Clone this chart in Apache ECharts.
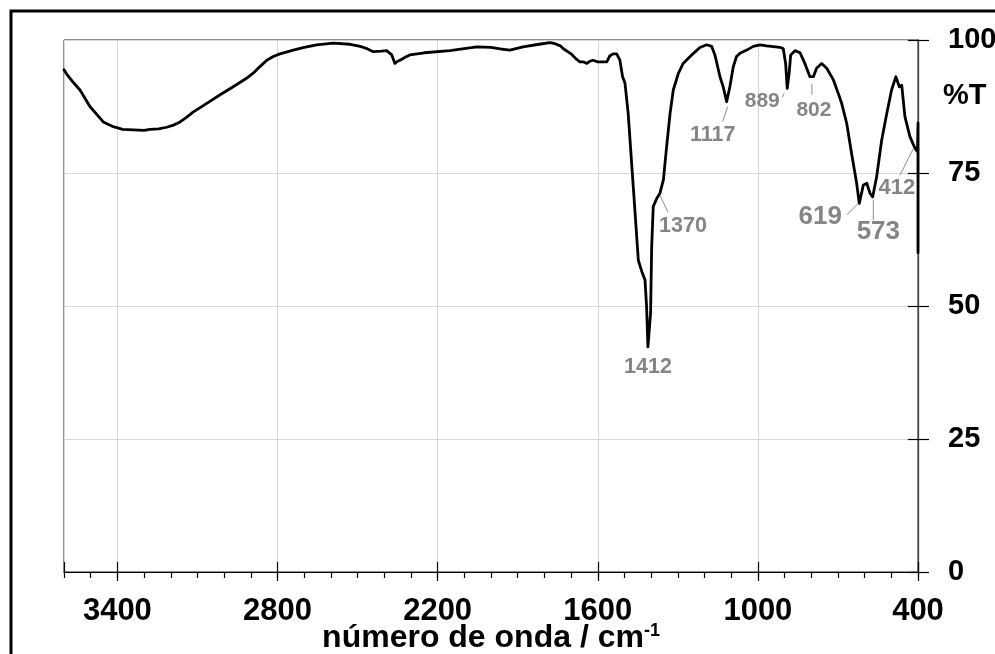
<!DOCTYPE html>
<html>
<head>
<meta charset="utf-8">
<script src="https://cdn.jsdelivr.net/npm/echarts@6/dist/echarts.min.js"></script>
<style>
  html, body { margin: 0; padding: 0; background: #fff; }
  #chart { width: 995px; height: 654px; }
</style>
</head>
<body>
<div id="chart"></div>
<script>
// ---- data ----
const wavenumber = [3600,3590,3570,3540,3503,3453,3415,3380,3340,3300,3278,3245,3215,3190,3165,3140,3115,3065,3015,2966,2916,2890,2866,2840,2816,2791,2741,2700,2653,2591,2528,2490,2466,2441,2410,2391,2372,2360,2350,2341,2320,2304,2250,2154,2100,2053,2000,1960,1929,1880,1820,1779,1760,1753,1740,1730,1700,1680,1667,1655,1641,1630,1618,1600,1580,1566,1555,1543,1529,1517,1507,1498,1486,1473,1460,1448,1435,1423,1417,1412,1402,1398,1392,1379,1367,1354,1342,1329,1317,1298,1280,1248,1217,1192,1173,1161,1142,1130,1117,1105,1092,1080,1067,1042,1017,992,967,917,905,896,890,883,877,861,842,824,805,792,780,761,742,717,699,686,667,649,630,620,605,592,580,570,555,536,517,499,483,470,461,449,430,411,402,400,400];
const transmittance = [94.4,93.6,92.3,90.6,87.5,84.6,83.7,83.2,83.1,83.0,83.2,83.3,83.6,84.0,84.6,85.5,86.5,88.1,89.7,91.2,92.8,93.8,95.0,96.2,96.9,97.4,98.1,98.6,99.1,99.4,99.2,98.8,98.4,97.8,97.9,98.0,97.2,95.6,96.0,96.2,96.8,97.2,97.6,98.0,98.4,98.7,98.6,98.3,98.1,98.7,99.2,99.5,99.3,99.0,98.9,98.4,97.4,96.4,95.9,95.9,95.6,96.0,96.2,95.9,95.9,95.9,97.0,97.4,97.4,96.2,93.1,91.9,86.2,76.8,67.4,58.6,56.5,54.9,49.9,42.3,48.7,61.1,68.7,70.2,71.2,73.7,79.9,86.2,90.6,93.7,95.6,97.2,98.6,99.1,98.8,97.2,93.1,91.2,88.4,91.2,95.0,96.9,97.5,98.1,98.8,99.1,98.9,98.6,98.4,95.6,90.9,93.7,97.2,98.0,97.6,95.6,93.1,93.1,94.7,95.6,94.7,92.5,90.0,88.1,84.3,78.7,73.1,69.3,72.7,73.1,71.2,70.5,74.3,81.2,86.2,90.6,93.1,91.2,91.5,85.6,81.8,79.6,79.0,84.4,60.0];

const xTickValues = [3400, 2800, 2200, 1600, 1000, 400];
const yTickValues = [0, 25, 50, 75, 100];

const peakLabels = ['1412', '1370', '1117', '889', '802', '619', '573', '412'];
const peakWavenumber = [1412, 1367, 1117, 890, 805, 620, 570, 411];
const peakTransmittance = [42.3, 71.2, 88.4, 90.9, 93.1, 69.3, 70.5, 79.6];

// ---- layout / style of the annotations (pixel offsets from the peak) ----
const annotLayout = [
  { text: [0, 20],     line: null,                 size: 21.5 },
  { text: [23, 33],    line: [[0, 2], [8, 19]],    size: 21.5 },
  { text: [-14, 33],   line: [[1, 5], [-4, 20]],   size: 21.5 },
  { text: [-25, 13],   line: [[-3, 5], [-5, 9]],   size: 21 },
  { text: [4, 33],     line: [[2, 7], [2, 18]],    size: 21 },
  { text: [-39, 13.5], line: [[-1, 0], [-12.5, 11.5]], size: 26 },
  { text: [5.7, 34.7], line: [[0.7, 3], [0.7, 23]], size: 26 },
  { text: [-18.3, 39.8], line: [[-1.7, 0], [-15, 26.5]], size: 22 }
];

const FONT = 'Liberation Sans, Arial, Helvetica, sans-serif';
const spectrum = wavenumber.map((w, i) => [w, transmittance[i]]);
const peaks = peakWavenumber.map((w, i) => [w, peakTransmittance[i], i]);

const chart = echarts.init(document.getElementById('chart'), null, { renderer: 'canvas' });

const baseX = {
  type: 'value', min: 400, max: 3600, inverse: true, position: 'bottom',
  axisLine: { show: false, onZero: false }, axisLabel: { show: false },
  splitLine: { show: false }, axisTick: { show: false }
};
const baseY = {
  type: 'value', min: 0, max: 100, interval: 25, position: 'right',
  axisLine: { show: false, onZero: false }, axisLabel: { show: false },
  splitLine: { show: false }, axisTick: { show: false }
};

chart.setOption({
  animation: false,
  backgroundColor: '#ffffff',
  grid: {
    left: 64, right: 77, top: 40, bottom: 82,
    containLabel: false, outerBoundsMode: 'none',
    show: true, borderColor: '#222', borderWidth: 1, backgroundColor: 'transparent'
  },
  graphic: [{
    type: 'rect', z: -10, silent: true,
    shape: { x: 11, y: 11, width: 1100, height: 1100 },
    style: { fill: 'none', stroke: '#000', lineWidth: 3 }
  }],
  xAxis: [
    Object.assign({}, baseX, {
      interval: 600,
      axisLine: { show: true, onZero: false, lineStyle: { color: '#000', width: 1.2 } },
      axisTick: { show: true, inside: false, length: 9, lineStyle: { color: '#000', width: 1.2 } },
      axisLabel: {
        show: true, margin: 24, color: '#000', fontSize: 31, fontWeight: 'bold', fontFamily: FONT,
        showMaxLabel: false,
        formatter: v => (xTickValues.indexOf(v) >= 0 ? String(v) : '')
      },
      splitLine: { show: true, lineStyle: { color: '#d6d6d6', width: 1 } },
      name: '{a|número de onda / cm}{b|-1}',
      nameLocation: 'middle', nameGap: 50, nameMoveOverlap: false,
      nameTextStyle: {
        color: '#000', fontFamily: FONT,
        rich: {
          a: { fontSize: 32, fontWeight: 'bold', fontFamily: FONT, color: '#000', lineHeight: 32 },
          b: { fontSize: 18, fontWeight: 'bold', fontFamily: FONT, color: '#000', verticalAlign: 'top', lineHeight: 32 }
        }
      }
    }),
    Object.assign({}, baseX, {
      interval: 600,
      axisTick: { show: true, inside: true, length: 10, lineStyle: { color: '#000', width: 1.2 } }
    }),
    Object.assign({}, baseX, {
      interval: 100,
      axisTick: { show: true, inside: false, length: 6, lineStyle: { color: '#000', width: 1.2 } }
    })
  ],
  yAxis: [
    Object.assign({}, baseY, {
      axisLine: { show: true, onZero: false, lineStyle: { color: '#444', width: 1.3 } },
      axisTick: { show: true, inside: false, length: 11, lineStyle: { color: '#000', width: 1.2 } },
      axisLabel: {
        show: true, margin: 30, color: '#000', fontSize: 29, fontWeight: 'bold', fontFamily: FONT,
        formatter: v => (yTickValues.indexOf(v) >= 0 ? String(v) : '')
      },
      splitLine: { show: true, lineStyle: { color: '#d6d6d6', width: 1 } },
      name: '%T', nameLocation: 'end', nameGap: -56, nameMoveOverlap: false,
      nameTextStyle: {
        color: '#000', fontSize: 29, fontWeight: 'bold', fontFamily: FONT,
        align: 'left', verticalAlign: 'middle', padding: [0, 0, 0, 25]
      }
    }),
    Object.assign({}, baseY, {
      axisTick: { show: true, inside: true, length: 10, lineStyle: { color: '#000', width: 1.2 } }
    })
  ],
  series: [
    {
      type: 'line', xAxisIndex: 0, yAxisIndex: 0,
      data: spectrum, showSymbol: false, symbol: 'none', smooth: false,
      lineStyle: { color: '#000', width: 2.8, join: 'round', cap: 'round' },
      z: 5, clip: false
    },
    {
      type: 'custom', xAxisIndex: 0, yAxisIndex: 0, z: 6,
      data: peaks,
      renderItem: function (params, api) {
        const i = api.value(2);
        const p = api.coord([api.value(0), api.value(1)]);
        const L = annotLayout[i];
        const children = [];
        if (L.line) {
          children.push({
            type: 'line',
            shape: { x1: p[0] + L.line[0][0], y1: p[1] + L.line[0][1], x2: p[0] + L.line[1][0], y2: p[1] + L.line[1][1] },
            style: { stroke: '#8c8c8c', lineWidth: 1 }
          });
        }
        children.push({
          type: 'text',
          x: p[0] + L.text[0], y: p[1] + L.text[1],
          style: {
            text: peakLabels[i], fill: '#858585',
            fontSize: L.size, fontWeight: 'bold', fontFamily: FONT,
            align: 'center', verticalAlign: 'middle'
          }
        });
        return { type: 'group', children: children };
      }
    }
  ]
});
</script>
</body>
</html>
